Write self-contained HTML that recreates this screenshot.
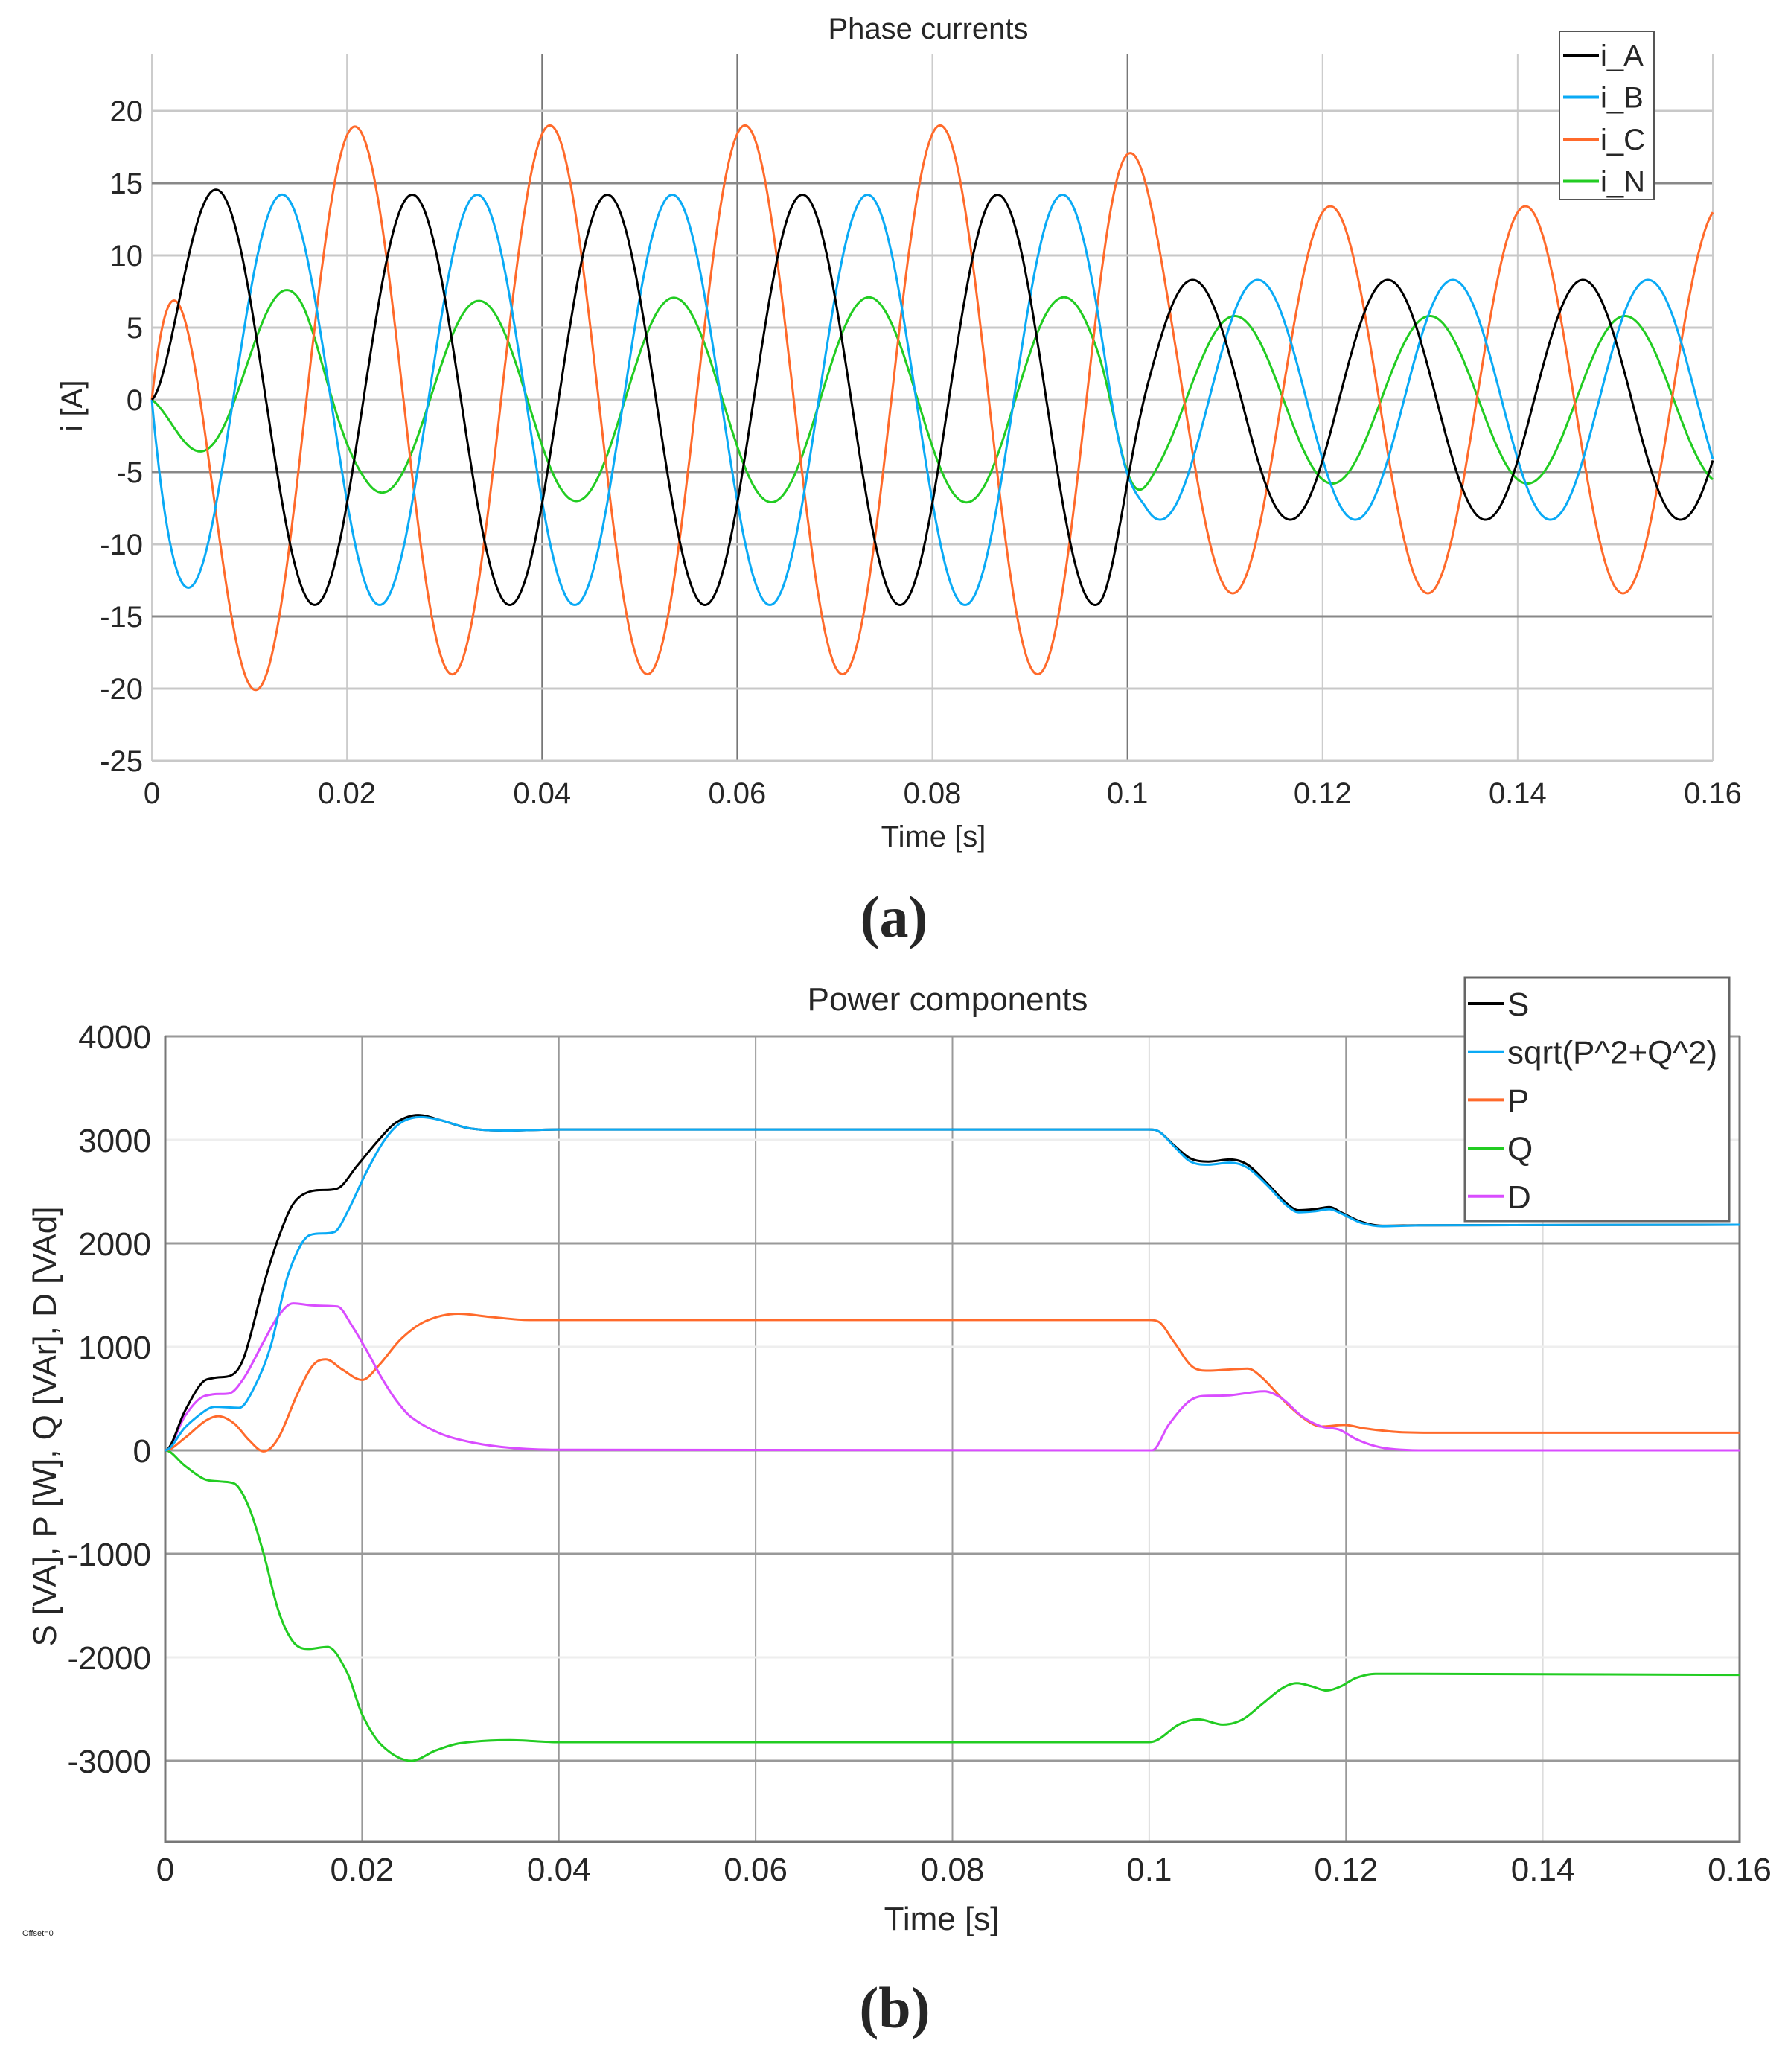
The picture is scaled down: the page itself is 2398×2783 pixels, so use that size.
<!DOCTYPE html>
<html><head><meta charset="utf-8"><style>
html,body{margin:0;padding:0;background:#fff;}
svg{display:block;}
text{font-family:"Liberation Sans",sans-serif;fill:#262626;}
</style></head><body>
<svg id="s" width="2398" height="2783" viewBox="0 0 2398 2783" xmlns="http://www.w3.org/2000/svg">
<rect width="2398" height="2783" fill="#fff"/>
<g id="g1"></g>
<g id="g2"></g>
<text x="1247" y="52" font-size="40" text-anchor="middle">Phase currents</text>
<text x="1254" y="1137" font-size="40" text-anchor="middle">Time [s]</text>
<text x="0" y="0" font-size="40" text-anchor="middle" transform="translate(110,545) rotate(-90)">i [A]</text>
<text x="1201" y="1258" font-size="78" font-weight="bold" text-anchor="middle" style="font-family:'Liberation Serif',serif">(a)</text>
<text x="1273" y="1357" font-size="44" text-anchor="middle">Power components</text>
<text x="1265" y="2592" font-size="44" text-anchor="middle">Time [s]</text>
<text x="0" y="0" font-size="44" text-anchor="middle" transform="translate(75,1916) rotate(-90)">S [VA], P [W], Q [VAr], D [VAd]</text>
<text x="1202" y="2723" font-size="78" font-weight="bold" text-anchor="middle" style="font-family:'Liberation Serif',serif">(b)</text>
<text x="30" y="2600" font-size="11">Offset=0</text>
</svg>
<script>
var NS="http://www.w3.org/2000/svg";
function el(p,n,a,t){var e=document.createElementNS(NS,n);for(var k in a)e.setAttribute(k,a[k]);if(t!==undefined)e.textContent=t;p.appendChild(e);return e;}
var g1=document.getElementById('g1'),g2=document.getElementById('g2');
var L1=204,R1=2301,T1=72,B1=1022;
function X1(t){return L1+t/0.16*(R1-L1);}
function Y1(v){return 149+(20-v)*19.4;}
for(var k=0;k<=8;k++){var x=X1(k*0.02);var dark=(k==2||k==3||k==5);
 el(g1,'line',{x1:x,y1:T1,x2:x,y2:B1,stroke:dark?'#777':'#ccc','stroke-width':2});
 var lab=k==0?'0':(k==5?'0.1':(k*0.02).toFixed(2));
 el(g1,'text',{x:x,y:1079,'font-size':40,'text-anchor':'middle'},lab);}
for(var v=20;v>=-25;v-=5){var y=Y1(v);var dark=(v==15||v==-5||v==-15);
 el(g1,'line',{x1:L1,y1:y,x2:R1,y2:y,stroke:dark?'#888':'#c8c8c8','stroke-width':3});
 el(g1,'text',{x:192,y:y+14,'font-size':40,'text-anchor':'end'},String(v));}
el(g1,'line',{x1:R1,y1:T1,x2:R1,y2:B1,stroke:'#ccc','stroke-width':2});
var w=2*Math.PI*50;
function blend(t,a,b,t0,t1){if(t<=t0)return a;if(t>=t1)return b;var u=(t-t0)/(t1-t0);u=u*u*(3-2*u);return a+(b-a)*u;}
var pA=-0.53,pB=-0.53-2.094,pC=1.32;
function iA(t){var A=blend(t,14.2,8.3,0.097,0.103);return A*Math.sin(w*t+pA)+14.2*Math.sin(0.53)*Math.exp(-t/0.0022);}
function iB(t){var A=blend(t,14.2,8.3,0.097,0.102);return A*Math.sin(w*t+pB)-14.2*Math.sin(pB)*Math.exp(-t/0.002);}
function iC(t){var A=blend(t,19,13.4,0.097,0.106);return A*Math.sin(w*t+pC)-19*Math.sin(pC)*Math.exp(-t/0.0038);}
function iN(t){var ph=blend(t,-2.67,-1.885,0.097,0.103);var A=blend(t,7.1,5.8,0.097,0.104);A=blend(t,10.2,A,0.015,0.022);return A*(1-Math.exp(-t/0.01))*Math.sin(w*t+ph);}
function curve1(f,c){var d='';for(var i=0;i<=1600;i++){var t=i/1600*0.16;d+=(i?'L':'M')+X1(t).toFixed(1)+','+Y1(f(t)).toFixed(1);}el(g1,'path',{d:d,fill:'none',stroke:c,'stroke-width':3});}
curve1(iN,'#22cc22');curve1(iC,'#ff6a2b');curve1(iB,'#0aaaf5');curve1(iA,'#000');
el(g1,'rect',{x:2095,y:42,width:127,height:226,fill:'#fff',stroke:'#555','stroke-width':2});
var ln=[['i_A','#000'],['i_B','#0aaaf5'],['i_C','#ff6a2b'],['i_N','#22cc22']];
for(var i=0;i<4;i++){var y=74+i*56.5;el(g1,'line',{x1:2100,y1:y,x2:2148,y2:y,stroke:ln[i][1],'stroke-width':4});
 el(g1,'text',{x:2150,y:y+14,'font-size':40},ln[i][0]);}
var L2=222,R2=2337,T2=1392,B2=2474;
function X2(t){return L2+t/0.16*(R2-L2);}
function Y2(v){return T2+(4000-v)*0.139;}
for(var k=0;k<=8;k++){var x=X2(k*0.02);
 el(g2,'line',{x1:x,y1:T2,x2:x,y2:B2,stroke:(k==5||k==7)?'#ddd':'#999','stroke-width':2});
 var lab=k==0?'0':(k==5?'0.1':(k*0.02).toFixed(2));
 el(g2,'text',{x:x,y:2526,'font-size':44,'text-anchor':'middle'},lab);}
for(var v=4000;v>=-3000;v-=1000){var y=Y2(v);var dark=(v==4000||v==2000||v==0||v==-1000||v==-3000);
 el(g2,'line',{x1:L2,y1:y,x2:R2,y2:y,stroke:dark?'#999':'#eee','stroke-width':3});
 el(g2,'text',{x:203,y:y+16,'font-size':44,'text-anchor':'end'},String(v));}
el(g2,'path',{d:'M'+L2+','+T2+'V'+B2+'H'+R2+'V'+T2,fill:'none',stroke:'#777','stroke-width':3});
function spline(pts,c){
 var n=pts.length,m=[];
 for(var i=0;i<n;i++){
  if(i==0||i==n-1){m.push(0);continue;}
  var d0=(pts[i][1]-pts[i-1][1])/(pts[i][0]-pts[i-1][0]),d1=(pts[i+1][1]-pts[i][1])/(pts[i+1][0]-pts[i][0]);
  var mm=(pts[i+1][1]-pts[i-1][1])/(pts[i+1][0]-pts[i-1][0]);
  if(d0*d1<=0)mm=0;else{var lim=3*Math.min(Math.abs(d0),Math.abs(d1));if(Math.abs(mm)>lim)mm=lim*Math.sign(mm);}
  m.push(mm);}
 var d='M'+X2(pts[0][0]/1000).toFixed(1)+','+Y2(pts[0][1]).toFixed(1);
 for(var i=0;i<n-1;i++){var t0=pts[i][0],t1=pts[i+1][0],h=t1-t0;
  var c1t=t0+h/3,c1v=pts[i][1]+m[i]*h/3,c2t=t1-h/3,c2v=pts[i+1][1]-m[i+1]*h/3;
  d+='C'+X2(c1t/1000).toFixed(1)+','+Y2(c1v).toFixed(1)+' '+X2(c2t/1000).toFixed(1)+','+Y2(c2v).toFixed(1)+' '+X2(t1/1000).toFixed(1)+','+Y2(pts[i+1][1]).toFixed(1);}
 el(g2,'path',{d:d,fill:'none',stroke:c,'stroke-width':3});}
var S=[[0,0],[2,380],[3.7,650],[5,700],[6.6,720],[8,900],[10,1600],[11.5,2050],[13,2380],[14.7,2500],[17.5,2530],[19.5,2750],[21.7,3000],[23.5,3170],[25.7,3240],[28,3190],[31,3110],[35,3090],[40,3100],[100,3100],[101,3080],[102.5,2950],[104.2,2820],[106,2790],[108.2,2810],[110,2760],[112,2580],[113.8,2400],[115.2,2320],[116.8,2330],[118.3,2350],[119.5,2300],[121.5,2210],[123.7,2170],[128,2175],[160,2180]];
var SQ=[[0,0],[2,220],[4,380],[5,420],[7.5,410],[9,600],[10.7,1000],[12.5,1700],[14.7,2080],[17.2,2110],[18.5,2300],[20.5,2700],[22.3,3000],[24,3170],[26,3220],[28,3190],[31,3110],[35,3090],[40,3100],[100,3100],[101,3080],[102.5,2940],[104.2,2790],[106,2760],[108.2,2780],[110,2730],[112,2560],[113.8,2380],[115.2,2300],[116.8,2310],[118.3,2330],[119.5,2290],[121.5,2200],[123.7,2165],[128,2175],[160,2180]];
var Pp=[[0,0],[2,120],[4,280],[5.4,330],[7,260],[8.5,100],[10,-10],[11.5,120],[13.5,560],[15,820],[16.3,880],[18,780],[20,680],[21.7,820],[24,1080],[26.5,1250],[29.8,1320],[33,1290],[37,1260],[40,1260],[100,1260],[101,1240],[102.5,1050],[104.5,800],[106,770],[108,780],[110,790],[111.5,700],[114,450],[116,290],[117.5,230],[119.8,245],[122,210],[125.7,175],[130,170],[160,170]];
var Qq=[[0,0],[2,-150],[4,-280],[5.5,-300],[7,-320],[8.5,-550],[10,-1000],[11.5,-1550],[13,-1850],[14.5,-1920],[16.5,-1900],[18.5,-2150],[20,-2550],[22,-2850],[25,-3000],[27.5,-2900],[30,-2830],[35,-2800],[40,-2820],[100,-2820],[101,-2790],[103,-2650],[105,-2600],[107.5,-2650],[109.5,-2600],[111.5,-2450],[113.5,-2300],[115,-2250],[116.5,-2280],[118,-2320],[119.5,-2280],[121,-2200],[123,-2160],[126,-2160],[160,-2170]];
var Dd=[[0,0],[2,330],[3.5,500],[4.8,540],[6.5,550],[8,700],[10,1050],[11.5,1300],[13,1420],[15,1400],[17.5,1390],[19,1200],[20.5,960],[22,700],[23.5,480],[25,320],[28,160],[31,80],[35,25],[40,5],[100,0],[100.3,0],[102,250],[104,470],[105.5,525],[108,530],[111.7,570],[113.5,500],[115.5,330],[117.5,230],[119.3,200],[121,110],[123,40],[125,10],[128,0],[160,0]];
spline(Qq,'#22cc22');spline(Pp,'#ff6a2b');spline(Dd,'#d94dff');spline(S,'#000');spline(SQ,'#0aaaf5');
el(g2,'rect',{x:1968,y:1313,width:355,height:327,fill:'#fff',stroke:'#666','stroke-width':3});
var l2=[['S','#000'],['sqrt(P^2+Q^2)','#0aaaf5'],['P','#ff6a2b'],['Q','#22cc22'],['D','#d94dff']];
for(var i=0;i<5;i++){var y=1348+i*64.7;el(g2,'line',{x1:1972,y1:y,x2:2021,y2:y,stroke:l2[i][1],'stroke-width':4});
 el(g2,'text',{x:2025,y:y+16,'font-size':44},l2[i][0]);}
</script>
</body></html>
